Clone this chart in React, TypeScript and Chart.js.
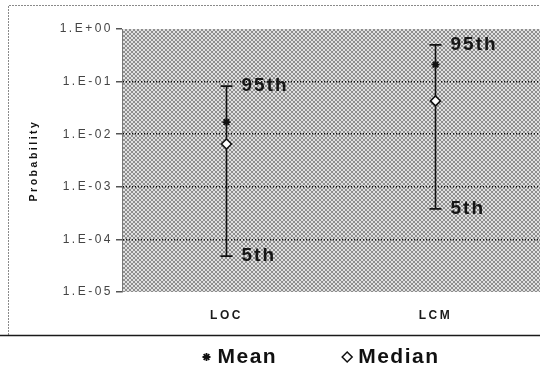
import React, { useEffect, useRef } from "react";
import { Chart, registerables } from "chart.js";
import { drawPoint } from "chart.js/helpers";
Chart.register(...registerables);

const categories = ["LOC", "LCM"];
const p95Values = [0.082, 0.5];
const p5Values = [4.8e-5, 3.8e-4];
const meanValues = [0.017, 0.21];
const medianValues = [0.0065, 0.043];
const yTickValues = [1, 1e-1, 1e-2, 1e-3, 1e-4, 1e-5];
const yTickLabels = ["1.E+00", "1.E-01", "1.E-02", "1.E-03", "1.E-04", "1.E-05"];
const seriesNames = ["Mean", "Median"];
const upperLabel = "95th";
const lowerLabel = "5th";

const FONT = "Arial, 'Liberation Sans', sans-serif";
const SPACING = "2.5px";

function makePattern(): CanvasPattern | string {
  const c = document.createElement("canvas");
  c.width = 4;
  c.height = 4;
  const g = c.getContext("2d");
  if (!g) return "#b8b8b8";
  g.fillStyle = "#e0e0e0";
  g.fillRect(0, 0, 4, 4);
  g.fillStyle = "#8e8e8e";
  for (let i = 0; i < 4; i++) {
    g.fillRect(i, i, 1, 1);
    g.fillRect(3 - i, i, 1, 1);
  }
  const p = g.createPattern(c, "repeat");
  return p || "#b8b8b8";
}

export default function App() {
  const ref = useRef<HTMLCanvasElement | null>(null);
  useEffect(() => {
    document.body.style.margin = "0";
    const canvas = ref.current;
    if (!canvas) return;
    const pattern = makePattern();

    const spacingPlugin = {
      id: "spacing",
      beforeUpdate(chart: any) {
        chart.ctx.letterSpacing = SPACING;
      },
      beforeDraw(chart: any) {
        chart.ctx.letterSpacing = SPACING;
      },
    };

    const bgPlugin = {
      id: "bgPattern",
      beforeDraw(chart: any) {
        const { ctx, chartArea } = chart;
        ctx.save();
        ctx.fillStyle = "#ffffff";
        ctx.fillRect(0, 0, chart.width, chart.height);
        ctx.fillStyle = pattern;
        ctx.fillRect(chartArea.left, chartArea.top, chartArea.right - chartArea.left, chartArea.bottom - chartArea.top);
        ctx.strokeStyle = "#8a8a8a";
        ctx.lineWidth = 1;
        ctx.setLineDash([2, 1]);
        ctx.beginPath();
        ctx.moveTo(8.5, 335);
        ctx.lineTo(8.5, 5.5);
        ctx.lineTo(chart.width, 5.5);
        ctx.stroke();
        ctx.setLineDash([]);
        ctx.strokeStyle = "#1a1a1a";
        ctx.lineWidth = 1.5;
        ctx.beginPath();
        ctx.moveTo(0, 335.5);
        ctx.lineTo(chart.width, 335.5);
        ctx.stroke();
        ctx.restore();
      },
    };

    const errPlugin = {
      id: "errBars",
      beforeDatasetsDraw(chart: any) {
        const { ctx } = chart;
        const xs = chart.scales.x;
        const ys = chart.scales.y;
        ctx.save();
        ctx.strokeStyle = "#111";
        ctx.lineWidth = 1.6;
        categories.forEach((_, i) => {
          const x = xs.getPixelForValue(i);
          const yt = ys.getPixelForValue(p95Values[i]);
          const yb = ys.getPixelForValue(p5Values[i]);
          ctx.beginPath();
          ctx.moveTo(x, yt);
          ctx.lineTo(x, yb);
          ctx.moveTo(x - 6, yt);
          ctx.lineTo(x + 6, yt);
          ctx.moveTo(x - 6, yb);
          ctx.lineTo(x + 6, yb);
          ctx.stroke();
          ctx.fillStyle = "#151515";
          ctx.letterSpacing = "2px";
          ctx.font = `bold 19px ${FONT}`;
          ctx.textBaseline = "middle";
          ctx.textAlign = "left";
          ctx.fillText(upperLabel, x + 15, yt);
          ctx.fillText(lowerLabel, x + 15, yb);
        });
        ctx.restore();
      },
    };

    const legendPlugin = {
      id: "customLegend",
      afterDraw(chart: any) {
        const { ctx, chartArea } = chart;
        const ds = chart.data.datasets;
        ctx.save();
        ctx.letterSpacing = "1.5px";
        ctx.font = `bold 21px ${FONT}`;
        ctx.textBaseline = "middle";
        ctx.textAlign = "left";
        const pointW = 8;
        const gapText = 7;
        const gapItem = 66;
        const widths = ds.map((d: any) => ctx.measureText(d.label).width);
        let total = 0;
        widths.forEach((w: number, i: number) => {
          total += pointW + gapText + w + (i < widths.length - 1 ? gapItem : 0);
        });
        let x = (chartArea.left + chartArea.right) / 2 - 10 - total / 2;
        const y = 357;
        ds.forEach((d: any, i: number) => {
          ctx.fillStyle = d.backgroundColor;
          ctx.strokeStyle = d.borderColor;
          ctx.lineWidth = d.borderWidth;
          drawPoint(ctx, { pointStyle: d.pointStyle, radius: d.pointRadius, borderWidth: d.borderWidth, rotation: 0 } as any, x + pointW / 2, y);
          ctx.fillStyle = "#111";
          ctx.fillText(d.label, x + pointW + gapText, y);
          x += pointW + gapText + widths[i] + gapItem;
        });
        ctx.restore();
      },
    };

    const chart = new Chart(canvas, {
      type: "line",
      data: {
        labels: categories,
        datasets: [
          {
            label: seriesNames[0],
            data: meanValues,
            showLine: false,
            pointStyle: "star",
            pointRadius: 4,
            borderColor: "#111",
            backgroundColor: "#111",
            borderWidth: 1.8,
          },
          {
            label: seriesNames[1],
            data: medianValues,
            showLine: false,
            pointStyle: "rectRot",
            pointRadius: 5,
            borderColor: "#111",
            backgroundColor: "#ffffff",
            borderWidth: 1.5,
          },
        ],
      },
      options: {
        animation: false,
        responsive: false,
        layout: { autoPadding: false, padding: { left: 10, top: 29, right: 0, bottom: 40 } },
        plugins: {
          tooltip: { enabled: false },
          legend: { display: false },
        },
        scales: {
          x: {
            type: "category",
            offset: true,
            grid: { display: false },
            border: { display: false },
            afterFit(scale: any) {
              scale.height = 40;
              scale.paddingLeft = 0;
              scale.paddingRight = 0;
            },
            ticks: {
              color: "#1a1a1a",
              padding: 8,
              font: { family: FONT, size: 12, weight: "bold" },
            },
          },
          y: {
            type: "logarithmic",
            min: 1e-5,
            max: 1,
            afterBuildTicks(scale: any) {
              scale.ticks = yTickValues.map((v) => ({ value: v }));
            },
            afterFit(scale: any) {
              scale.width = 112;
            },
            grid: {
              color: (c: any) => {
                const v = c.tick ? c.tick.value : 0;
                return v === 1 || v === 1e-5 ? "rgba(0,0,0,0)" : "#111111";
              },
              lineWidth: 1.5,
              tickColor: "#555",
              tickLength: 6,
            },
            border: { display: true, color: "#777", dash: [1, 2] },
            title: {
              display: true,
              text: "Probability",
              color: "#111",
              font: { family: FONT, size: 10.5, weight: "bold" },
              padding: { top: 18, bottom: 0 },
            },
            ticks: {
              color: "#444",
              padding: 3,
              font: { family: FONT, size: 12 },
              callback: (v: any) => {
                const idx = yTickValues.indexOf(Number(v));
                return idx >= 0 ? yTickLabels[idx] : "";
              },
            },
          },
        },
      },
      plugins: [spacingPlugin, bgPlugin, errPlugin, legendPlugin],
    } as any);
    return () => chart.destroy();
  }, []);
  return <canvas ref={ref} width={540} height={372} style={{ display: "block" }} />;
}
